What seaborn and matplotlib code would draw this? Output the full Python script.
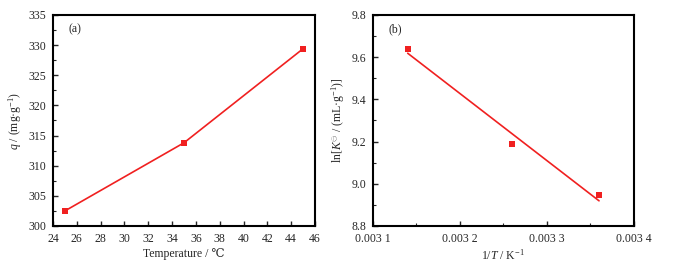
import matplotlib
matplotlib.use("Agg")
import matplotlib.pyplot as plt
import matplotlib.ticker as mticker
import numpy as np
import pandas as pd
import seaborn as sns

### Dados
temperatura = [25, 35, 45]
q_ads = [302.5, 313.8, 329.4]

inv_T = [0.00314, 0.00326, 0.00336]
ln_K = [9.64, 9.19, 8.945]

cor = "#f02020"

sns.set_style("ticks")
plt.rcParams["font.family"] = ["Liberation Serif", "DejaVu Serif"]
plt.rcParams["mathtext.fontset"] = "custom"
plt.rcParams["mathtext.rm"] = "Liberation Serif"
plt.rcParams["mathtext.it"] = "Liberation Serif:italic"
plt.rcParams["xtick.direction"] = "in"
plt.rcParams["ytick.direction"] = "in"

fig = plt.figure(figsize = (6.83, 2.67), dpi = 100)
ax1 = fig.add_axes([0.0776, 0.1536, 0.3836, 0.7904])
ax2 = fig.add_axes([0.546, 0.1536, 0.382, 0.7904])

### (a)
df_a = pd.DataFrame({"T": temperatura, "q": q_ads})
sns.lineplot(data = df_a, x = "T", y = "q", ax = ax1, color = cor, linewidth = 1.2,
             marker = "s", markersize = 4.5, markeredgewidth = 0, markerfacecolor = cor)
ax1.set_xlim(24, 46)
ax1.set_ylim(300, 335)
ax1.xaxis.set_major_locator(mticker.MultipleLocator(2))
ax1.yaxis.set_major_locator(mticker.MultipleLocator(5))
ax1.yaxis.set_minor_locator(mticker.MultipleLocator(2.5))
ax1.set_xlabel("Temperature / ℃", fontsize = 8.5, labelpad = 2)
ax1.set_ylabel(r"$\it{q}$ / (mg·g$^{-1}$)", fontsize = 8.5, labelpad = 3)
ax1.text(0.06, 0.93, "(a)", transform = ax1.transAxes, fontsize = 8.5, va = "center")

### (b)
df_b = pd.DataFrame({"invT": inv_T, "lnK": ln_K})
sns.regplot(data = df_b, x = "invT", y = "lnK", ax = ax2, ci = None, color = cor,
            marker = "s", scatter_kws = {"s": 20, "linewidths": 0, "alpha": 1},
            line_kws = {"linewidth": 1.2})
ax2.set_xlim(0.00310, 0.00340)
ax2.set_ylim(8.8, 9.8)
ax2.xaxis.set_major_locator(mticker.MultipleLocator(0.0001))
ax2.xaxis.set_minor_locator(mticker.MultipleLocator(0.00005))
ax2.yaxis.set_major_locator(mticker.MultipleLocator(0.2))
ax2.yaxis.set_minor_locator(mticker.MultipleLocator(0.1))
ax2.xaxis.set_major_formatter(mticker.FuncFormatter(lambda v, p: f"{v:.4f}"[:-1] + " " + f"{v:.4f}"[-1]))
ax2.yaxis.set_major_formatter(mticker.FormatStrFormatter("%.1f"))
ax2.set_xlabel(r"1/$\it{T}$ / K$^{-1}$", fontsize = 8.5, labelpad = 2)
ax2.set_ylabel(r"ln[$\it{K}^{\ominus}$ / (mL·g$^{-1}$)]", fontsize = 8.5, labelpad = 3)
ax2.text(0.06, 0.93, "(b)", transform = ax2.transAxes, fontsize = 8.5, va = "center")

for ax in [ax1, ax2]:
	for s in ax.spines.values():
		s.set_linewidth(1.5)
		s.set_color("black")
	ax.tick_params(axis = "both", which = "major", length = 3.5, width = 1, labelsize = 8.5)
	ax.tick_params(axis = "x", which = "major", pad = 5)
	ax.tick_params(axis = "y", which = "major", pad = 5)
	ax.tick_params(axis = "both", which = "minor", length = 2, width = 0.8)
	ax.tick_params(top = False, right = False, which = "both")

fig.savefig("out.png", dpi = 100)
